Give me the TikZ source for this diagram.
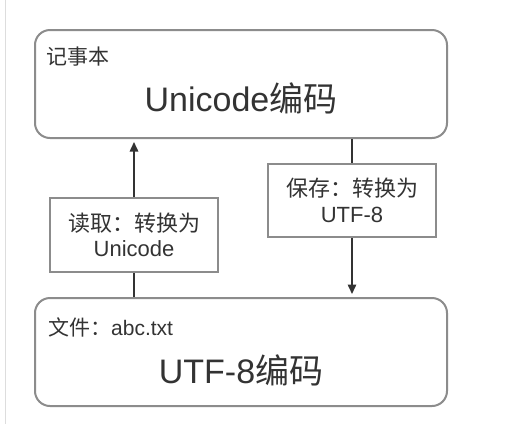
\documentclass[tikz,border=0pt]{standalone}
\usepackage{fontspec}
\setmainfont{Liberation Sans}
\newfontfamily\cjk{Noto Sans CJK SC}
\usetikzlibrary{arrows.meta}
\definecolor{boxgray}{HTML}{8C8C8C}
\definecolor{txt}{HTML}{333333}
\definecolor{edge}{HTML}{DDDDDD}
\tikzset{
  bigbox/.style={draw=boxgray, line width=2pt, rounded corners=15pt, minimum width=412pt, minimum height=108pt, inner sep=0pt},
  labelbox/.style={draw=boxgray, line width=2pt, minimum width=168pt, minimum height=73pt, inner sep=0pt, align=center, text=txt, font=\fontsize{22}{25.5}\selectfont},
  smalltxt/.style={anchor=west, text=txt, inner sep=0pt, font=\fontsize{21}{24}\selectfont},
  bigtxt/.style={text=txt, inner sep=0pt, font=\fontsize{34}{40}\selectfont},
  conn/.style={draw=txt, line width=1.5pt},
  arr/.style={conn, -{Triangle[width=8.5pt,length=9.5pt]}, shorten >=3pt}
}
\begin{document}
\begin{tikzpicture}[x=1pt,y=-1pt]
\useasboundingbox (0,0) rectangle (522,424);
\fill[white] (0,0) rectangle (522,424);
\draw[edge, line width=1pt] (5.5,0) -- (5.5,424);
\node[bigbox] (note) at (241,84) {};
\node[bigbox] (file) at (241,352) {};
\node[smalltxt] (notename) at (46,57) {\cjk 记事本};
\node[bigtxt] (notecode) at (241,98) {Unicode{\cjk 编码}};
\node[smalltxt] (filename) at (48,327) {{\cjk 文件：}abc.txt};
\node[bigtxt] (filecode) at (241,370) {UTF-8{\cjk 编码}};
\node[labelbox, minimum height=74pt] (read) at (134,235) {{\cjk 读取：转换为}\\Unicode};
\node[labelbox] (save) at (352,200.5) {{\cjk 保存：转换为}\\UTF-8};
\draw[arr] (read.north) -- (read.north |- note.south);
\draw[conn] (read.south |- file.north) -- (read.south);
\draw[conn] (note.south -| save.north) -- (save.north);
\draw[arr] (save.south) -- (save.south |- file.north);
\end{tikzpicture}
\end{document}
